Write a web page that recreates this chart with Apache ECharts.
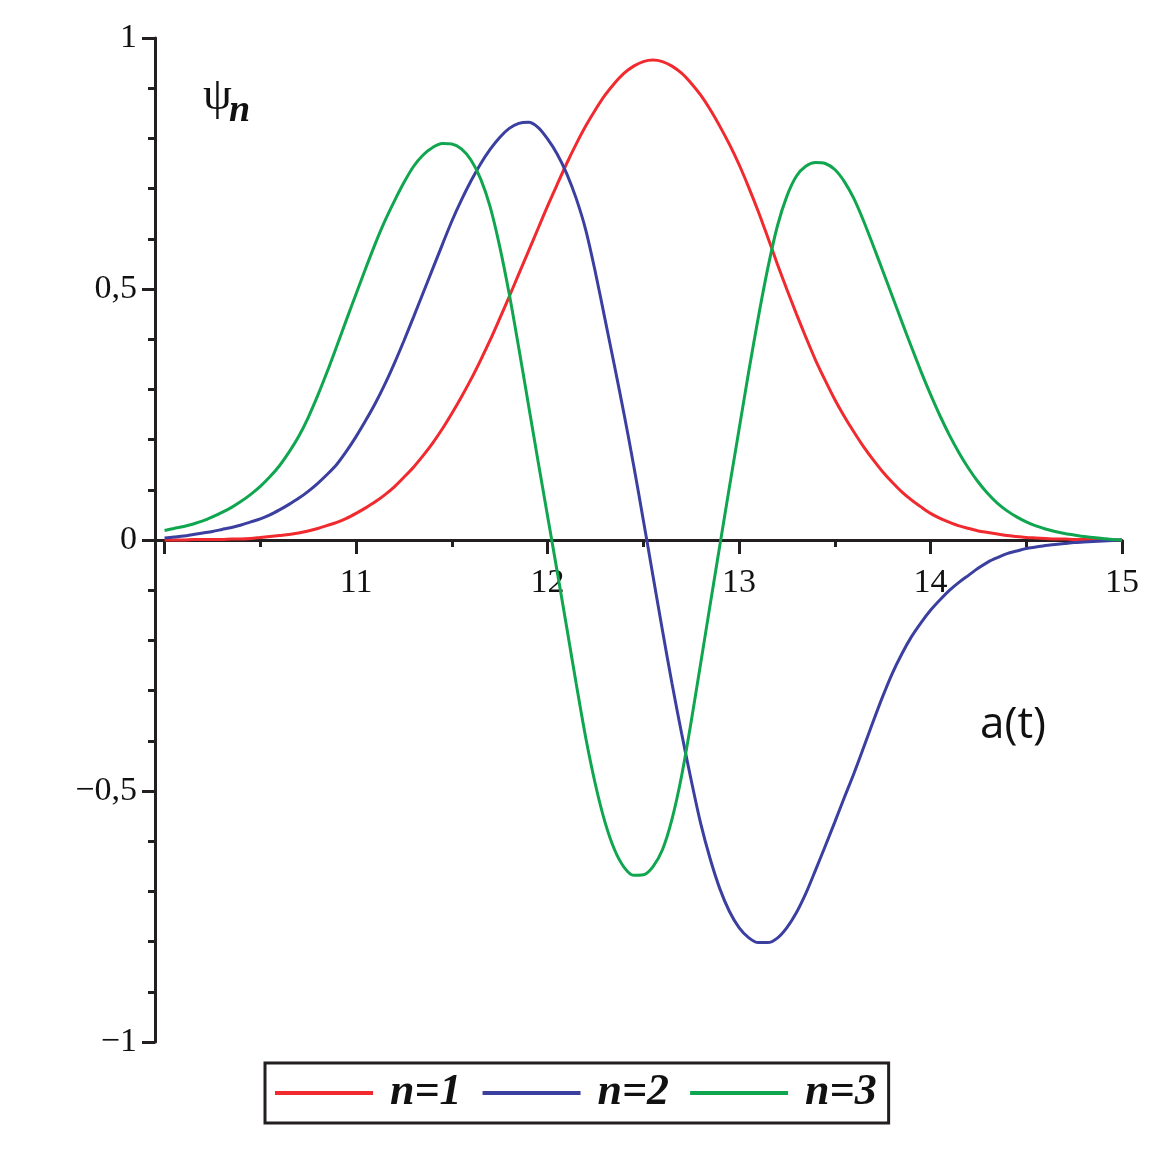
<!DOCTYPE html>
<html>
<head>
<meta charset="utf-8">
<script src="https://cdn.jsdelivr.net/npm/echarts@6/dist/echarts.min.js"></script>
<style>
  html, body { margin: 0; padding: 0; background: #fff; }
  #chart { width: 1157px; height: 1157px; }
</style>
</head>
<body>
<div id="chart"></div>
<script>
// a(t) sample points, step 0.05
var xs = [10.00, 10.05, 10.10, 10.15, 10.20, 10.25, 10.30, 10.35, 10.40, 10.45,
          10.50, 10.55, 10.60, 10.65, 10.70, 10.75, 10.80, 10.85, 10.90, 10.95,
          11.00, 11.05, 11.10, 11.15, 11.20, 11.25, 11.30, 11.35, 11.40, 11.45,
          11.50, 11.55, 11.60, 11.65, 11.70, 11.75, 11.80, 11.85, 11.90, 11.95,
          12.00, 12.05, 12.10, 12.15, 12.20, 12.25, 12.30, 12.35, 12.40, 12.45,
          12.50, 12.55, 12.60, 12.65, 12.70, 12.75, 12.80, 12.85, 12.90, 12.95,
          13.00, 13.05, 13.10, 13.15, 13.20, 13.25, 13.30, 13.35, 13.40, 13.45,
          13.50, 13.55, 13.60, 13.65, 13.70, 13.75, 13.80, 13.85, 13.90, 13.95,
          14.00, 14.05, 14.10, 14.15, 14.20, 14.25, 14.30, 14.35, 14.40, 14.45,
          14.50, 14.55, 14.60, 14.65, 14.70, 14.75, 14.80, 14.85, 14.90, 14.95, 15.00];

var psi1 = [0.000, 0.000, 0.000, 0.001, 0.001, 0.001, 0.001, 0.002, 0.002, 0.003,
            0.005, 0.007, 0.009, 0.011, 0.014, 0.018, 0.023, 0.029, 0.035, 0.043,
            0.053, 0.064, 0.076, 0.090, 0.106, 0.125, 0.145, 0.168, 0.193, 0.221,
            0.252, 0.285, 0.320, 0.358, 0.398, 0.441, 0.485, 0.530, 0.575, 0.620,
            0.665, 0.708, 0.750, 0.789, 0.825, 0.857, 0.886, 0.910, 0.930, 0.944,
            0.953, 0.956, 0.953, 0.944, 0.930, 0.910, 0.886, 0.857, 0.824, 0.788,
            0.748, 0.703, 0.655, 0.603, 0.550, 0.499, 0.450, 0.403, 0.358, 0.318,
            0.280, 0.246, 0.215, 0.186, 0.160, 0.136, 0.115, 0.096, 0.080, 0.066,
            0.053, 0.043, 0.035, 0.028, 0.023, 0.018, 0.015, 0.012, 0.009, 0.007,
            0.005, 0.004, 0.003, 0.002, 0.002, 0.001, 0.001, 0.001, 0.000, 0.000, 0.000];

var psi2 = [0.004, 0.006, 0.008, 0.011, 0.014, 0.017, 0.021, 0.025, 0.030, 0.036,
            0.042, 0.050, 0.060, 0.071, 0.083, 0.097, 0.113, 0.131, 0.151, 0.177,
            0.206, 0.238, 0.272, 0.310, 0.352, 0.397, 0.444, 0.492, 0.540, 0.588,
            0.635, 0.677, 0.715, 0.749, 0.778, 0.802, 0.820, 0.830, 0.832, 0.822,
            0.799, 0.769, 0.730, 0.680, 0.617, 0.533, 0.440, 0.346, 0.250, 0.148,
            0.040, -0.070, -0.180, -0.286, -0.385, -0.478, -0.565, -0.636, -0.695, -0.740,
            -0.772, -0.792, -0.802, -0.802, -0.793, -0.772, -0.742, -0.703, -0.657, -0.610,
            -0.562, -0.513, -0.465, -0.414, -0.362, -0.312, -0.266, -0.227, -0.193, -0.165,
            -0.140, -0.119, -0.100, -0.084, -0.070, -0.056, -0.044, -0.035, -0.027, -0.022,
            -0.017, -0.014, -0.011, -0.009, -0.007, -0.005, -0.004, -0.003, -0.002, -0.001, 0.000];

var psi3 = [0.019, 0.023, 0.027, 0.032, 0.038, 0.046, 0.055, 0.065, 0.077, 0.091,
            0.107, 0.126, 0.148, 0.175, 0.206, 0.244, 0.288, 0.336, 0.387, 0.439,
            0.490, 0.541, 0.590, 0.635, 0.675, 0.712, 0.744, 0.767, 0.782, 0.790,
            0.789, 0.779, 0.757, 0.720, 0.664, 0.585, 0.490, 0.382, 0.270, 0.158,
            0.048, -0.062, -0.174, -0.287, -0.395, -0.487, -0.562, -0.617, -0.652, -0.668,
            -0.667, -0.651, -0.617, -0.556, -0.470, -0.362, -0.245, -0.127, -0.010, 0.106,
            0.220, 0.334, 0.442, 0.541, 0.625, 0.685, 0.725, 0.745, 0.752, 0.750,
            0.738, 0.714, 0.680, 0.636, 0.587, 0.537, 0.486, 0.435, 0.385, 0.336,
            0.290, 0.247, 0.208, 0.173, 0.142, 0.115, 0.092, 0.073, 0.058, 0.046,
            0.036, 0.028, 0.022, 0.017, 0.013, 0.010, 0.007, 0.005, 0.003, 0.001, 0.000];

var seriesNames = ['n=1', 'n=2', 'n=3'];
var colors = ['#f02a2e', '#3b3f9f', '#10a64f'];
var xMajorTicks = [10, 11, 12, 13, 14, 15];
var xTickLabels = [11, 12, 13, 14, 15];

var ink = '#231f20';
var serif = '"Liberation Serif", "DejaVu Serif", serif';

function zip(ys) {
  return xs.map(function(x, i) { return [x, ys[i]]; });
}

var chart = echarts.init(document.getElementById('chart'), null, { renderer: 'canvas' });

chart.setOption({
  animation: false,
  grid: { left: 155, right: 35, top: 38, bottom: 115 },
  xAxis: {
    type: 'value', min: 9.95, max: 15,
    splitLine: { show: false },
    axisLine: { onZero: true, lineStyle: { color: ink, width: 3 } },
    axisTick: { show: true, customValues: xMajorTicks, length: 14, lineStyle: { color: ink, width: 3 } },
    minorTick: { show: true, splitNumber: 2, length: 7, lineStyle: { color: ink, width: 3 } },
    axisLabel: {
      show: true, color: '#111', fontFamily: serif, fontSize: 34,
      // labels are laid out from the grid's bottom edge, pull them up under the zero line
      margin: -476,
      showMinLabel: false,
      formatter: function(v) { return xTickLabels.indexOf(v) >= 0 ? String(v) : ''; }
    }
  },
  yAxis: {
    type: 'value',
    min: -1,
    max: 1,
    interval: 0.5,
    splitLine: { show: false },
    axisLine: { show: true, onZero: false, lineStyle: { color: ink, width: 3 } },
    axisTick: { show: true, length: 13, lineStyle: { color: ink, width: 3 } },
    minorTick: { show: true, splitNumber: 5, length: 7, lineStyle: { color: ink, width: 3 } },
    axisLabel: {
      color: '#111', fontFamily: serif, fontSize: 34, margin: 18,
      formatter: function(v) { return String(v).replace('.', ',').replace('-', '\u2212'); }
    }
  },
  legend: {
    left: 265,
    top: 1063,
    data: seriesNames,
    orient: 'horizontal',
    icon: 'rect',
    borderColor: ink,
    borderWidth: 3,
    padding: [8, 12, 8, 10],
    itemWidth: 98,
    itemHeight: 4,
    itemGap: 21,
    textStyle: { color: '#111', fontFamily: serif, fontSize: 44, fontStyle: 'italic', fontWeight: 'bold', padding: [0, 0, 0, 12] }
  },
  graphic: [
    { type: 'text', left: 203, top: 74, style: { text: '\u03c8', font: '46px "Liberation Serif"', fill: '#111' } },
    { type: 'text', left: 229, top: 92, style: { text: 'n', font: 'italic bold 38px "Liberation Serif"', fill: '#111' } },
    { type: 'text', left: 980, top: 703, style: { text: 'a(t)', font: '44px "Open Sans"', fill: '#111' } }
  ],
  series: [psi1, psi2, psi3].map(function(ys, i) {
    return {
      name: seriesNames[i],
      type: 'line',
      data: zip(ys),
      smooth: 0.3,
      symbol: 'none',
      lineStyle: { color: colors[i], width: 3 },
      itemStyle: { color: colors[i] }
    };
  })
});
</script>
</body>
</html>
